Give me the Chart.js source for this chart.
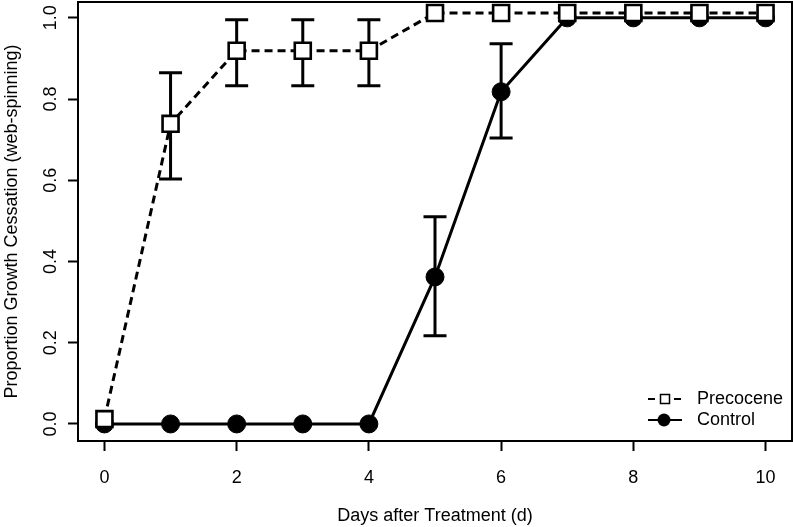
<!DOCTYPE html>
<html>
<head>
<meta charset="utf-8">
<script src="https://cdn.jsdelivr.net/npm/chart.js@4.4.1/dist/chart.umd.min.js"></script>
<style>
  body { margin: 0; background: #fff; }
  #wrap { width: 793px; height: 527px; }
</style>
</head>
<body>
<div id="wrap"><canvas id="growth-plot" width="793" height="527"></canvas></div>
<script>
// days after treatment
const days = [0, 1, 2, 3, 4, 5, 6, 7, 8, 9, 10];

// precocene group (plotted slightly above the control so both show)
const precocene = [0.012, 0.739, 0.919, 0.919, 0.919, 1.012, 1.012, 1.012, 1.012, 1.012, 1.012];
const precoceneLow = [null, 0.603, 0.833, 0.833, 0.833, null, null, null, null, null, null];
const precoceneHigh = [null, 0.865, 0.995, 0.995, 0.995, null, null, null, null, null, null];

// control group
const control = [0, 0, 0, 0, 0, 0.362, 0.818, 1, 1, 1, 1];
const controlLow = [null, null, null, null, null, 0.217, 0.704, null, null, null, null];
const controlHigh = [null, null, null, null, null, 0.51, 0.936, null, null, null, null];

const xTicks = [0, 2, 4, 6, 8, 10];
const yTicks = [0, 0.2, 0.4, 0.6, 0.8, 1.0];

const fontFamily = "'Liberation Sans', Arial, Helvetica, sans-serif";

let seriesPre = [];
let seriesCon = [];
for (let i = 0; i < days.length; i++) {
    seriesPre.push({x: days[i], y: precocene[i]});
    seriesCon.push({x: days[i], y: control[i]});
}

// error bars go under the markers, box and legend on top
const extrasPlugin = {
    id: 'extras',
    beforeDatasetsDraw(chart) {
        const ctx = chart.ctx;
        const xs = chart.scales.x;
        const ys = chart.scales.y;
        const groups = [[controlLow, controlHigh], [precoceneLow, precoceneHigh]];
        ctx.save();
        ctx.strokeStyle = '#000';
        ctx.lineWidth = 3;
        groups.forEach(g => {
            for (let i = 0; i < days.length; i++) {
                if (g[0][i] == null) continue;
                let px = xs.getPixelForValue(days[i]);
                let lo = ys.getPixelForValue(g[0][i]);
                let hi = ys.getPixelForValue(g[1][i]);
                ctx.beginPath();
                ctx.moveTo(px, lo); ctx.lineTo(px, hi);
                ctx.moveTo(px - 11.5, lo); ctx.lineTo(px + 11.5, lo);
                ctx.moveTo(px - 11.5, hi); ctx.lineTo(px + 11.5, hi);
                ctx.stroke();
            }
        });
        ctx.restore();
    },
    afterDraw(chart) {
        const ctx = chart.ctx;
        const area = chart.chartArea;
        ctx.save();
        // box round the plot
        ctx.strokeStyle = '#000';
        ctx.lineWidth = 2;
        ctx.strokeRect(area.left, area.top, area.right - area.left, area.bottom - area.top);

        // legend, bottom right
        let sx = area.right - 127;
        let tx = area.right - 95;
        let y1 = area.bottom - 42;
        let y2 = area.bottom - 21;
        ctx.lineWidth = 2;
        ctx.setLineDash([7, 6]);
        ctx.beginPath(); ctx.moveTo(sx - 17, y1); ctx.lineTo(sx + 17, y1); ctx.stroke();
        ctx.setLineDash([]);
        ctx.fillStyle = '#fff';
        ctx.lineWidth = 1.5;
        ctx.fillRect(sx - 4.5, y1 - 4.5, 9, 9);
        ctx.strokeRect(sx - 4.5, y1 - 4.5, 9, 9);
        ctx.lineWidth = 2;
        ctx.beginPath(); ctx.moveTo(sx - 17, y2); ctx.lineTo(sx + 17, y2); ctx.stroke();
        ctx.fillStyle = '#000';
        ctx.beginPath(); ctx.arc(sx - 1, y2, 6.5, 0, Math.PI * 2); ctx.fill();

        ctx.font = "18px " + fontFamily;
        ctx.textBaseline = 'middle';
        ctx.textAlign = 'left';
        ctx.fillText(chart.data.datasets[0].label, tx, y1);
        ctx.fillText(chart.data.datasets[1].label, tx, y2);
        ctx.restore();
    }
};

const growthPlot = new Chart("growth-plot", {
    type: 'line',
    data: {
        datasets: [{
            label: 'Precocene',
            data: seriesPre,
            borderColor: '#000',
            borderWidth: 3,
            borderDash: [8, 5],
            pointStyle: 'rect',
            pointRadius: 11.3,
            pointBorderWidth: 2.6,
            pointBackgroundColor: '#fff',
            pointBorderColor: '#000',
            tension: 0
        }, {
            label: 'Control',
            data: seriesCon,
            borderColor: '#000',
            borderWidth: 3,
            pointStyle: 'circle',
            pointRadius: 9,
            pointBorderWidth: 1,
            pointBackgroundColor: '#000',
            pointBorderColor: '#000',
            tension: 0
        }]
    },
    options: {
        responsive: false,
        animation: false,
        events: [],
        layout: {
            autoPadding: false,
            padding: {top: 2, right: 1, left: 0, bottom: 0}
        },
        plugins: {
            legend: {display: false},
            tooltip: {enabled: false}
        },
        scales: {
            x: {
                type: 'linear',
                min: -0.4,
                max: 10.4,
                afterBuildTicks: s => { s.ticks = xTicks.map(v => ({value: v})); },
                afterFit: s => {
                    s.height = 86;
                    s.paddingLeft = 0;
                    s.paddingRight = 0;
                },
                border: {display: false},
                grid: {
                    drawOnChartArea: false,
                    drawTicks: true,
                    tickLength: 10,
                    tickWidth: 2,
                    tickColor: '#000'
                },
                ticks: {
                    color: '#000',
                    padding: 16,
                    maxRotation: 0,
                    font: {family: fontFamily, size: 18}
                },
                title: {
                    display: true,
                    text: 'Days after Treatment (d)',
                    color: '#000',
                    padding: {top: 0, bottom: 0},
                    font: {family: fontFamily, size: 18}
                }
            },
            y: {
                type: 'linear',
                min: -0.042,
                max: 1.039,
                afterBuildTicks: s => { s.ticks = yTicks.map(v => ({value: v})); },
                afterFit: s => {
                    s.width = 78;
                    s.paddingTop = 0;
                    s.paddingBottom = 0;
                },
                border: {display: false},
                grid: {
                    drawOnChartArea: false,
                    drawTicks: true,
                    tickLength: 10,
                    tickWidth: 2,
                    tickColor: '#000'
                },
                ticks: {
                    color: '#000',
                    padding: 4,
                    minRotation: 90,
                    maxRotation: 90,
                    crossAlign: 'center',
                    font: {family: fontFamily, size: 18},
                    callback: v => v.toFixed(1)
                },
                title: {
                    display: true,
                    text: 'Proportion Growth Cessation (web-spinning)',
                    color: '#000',
                    padding: {top: 1, bottom: 0},
                    font: {family: fontFamily, size: 18}
                }
            }
        }
    },
    plugins: [extrasPlugin]
});
</script>
</body>
</html>
